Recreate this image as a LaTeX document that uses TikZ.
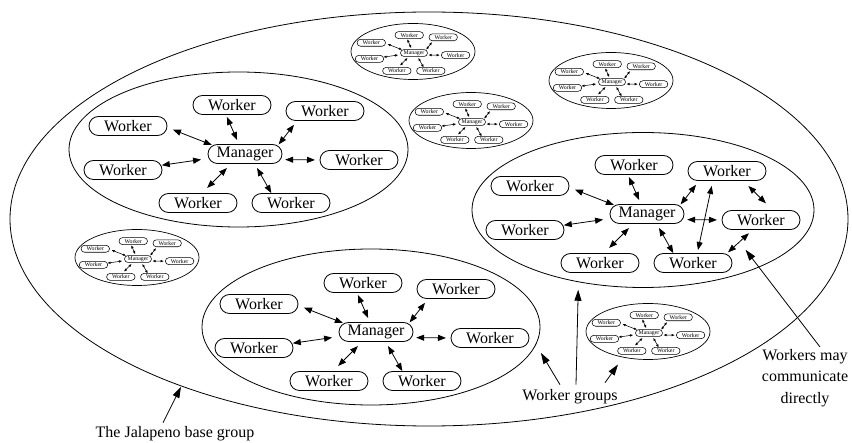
\documentclass[tikz,border=0pt]{standalone}
\usepackage{fontspec}
\setmainfont{Liberation Serif}
\usetikzlibrary{arrows.meta,shapes.misc,shapes.geometric}
\newcommand\figfont{\fontsize{16}{21.5}\selectfont}
\tikzset{
  box/.style={draw, rounded rectangle, minimum height=19pt, inner sep=0pt, outer sep=0pt, font=\figfont},
  wkr/.style={box, minimum width=78pt},
  mgr/.style={box, minimum width=74pt},
  grp/.style={draw, ellipse, inner sep=0pt, outer sep=0pt, line width=0.8pt},
  sgrp/.style={grp, minimum width=124pt, minimum height=56pt, line width=0.7pt},
  lbl/.style={font=\figfont, inner sep=0pt, anchor=base},
  pointer/.style={-{Triangle[length=11pt,width=7pt]}, line width=0.8pt},
  link/.style={<->},
  biglink/.style={<->, line width=0.8pt, >={Triangle[length=8pt,width=6pt]}},
  % one manager with its seven workers; the argument is the size factor
  pics/wgroup/.style={code={
    \begin{scope}[scale=#1, transform shape, line width=0.4pt+#1*0.4pt,
                  >={Triangle[length=8pt,width=6pt,scale=#1]}]
      \node[mgr] (m)  at (0,0)      {Manager};
      \node[wkr] (tl) at (-117,-28) {Worker};
      \node[wkr] (t)  at (-13,-49)  {Worker};
      \node[wkr] (tr) at (80,-43)   {Worker};
      \node[wkr] (l)  at (-122,16)  {Worker};
      \node[wkr] (r)  at (114,6)    {Worker};
      \node[wkr] (bl) at (-47,49)   {Worker};
      \node[wkr] (br) at (46,49)    {Worker};
      \draw[link, shorten <=#1*6.5pt, shorten >=#1*1.5pt] (tl.-2.2)  -- (m.165.6);
      \draw[link, shorten <=#1*2.7pt, shorten >=#1*4.9pt] (t.237.3)  -- (m.122.3);
      \draw[link, shorten <=#1*5.5pt, shorten >=#1*1.9pt] (tr.199.5) -- (m.14.8);
      \draw[link, shorten <=#1*1pt,   shorten >=#1*8.1pt] (l.7.2)    -- (m.187.5);
      \draw[link, shorten <=#1*5pt,   shorten >=#1*5pt]   (m.-9.2)   -- (r.180);
      \draw[link, shorten <=#1*6.4pt, shorten >=#1*7.8pt] (m.215.1)  -- (bl.69.8);
      \draw[link, shorten <=#1*5.2pt, shorten >=#1*0.5pt] (m.-45)    -- (br.154.3);
    \end{scope}
  }},
}
\begin{document}
\begin{tikzpicture}[x=1pt, y=-1pt]
  \useasboundingbox (0,0) rectangle (852,443);

  % the base group and the group outlines
  \node[grp, minimum width=838pt, minimum height=414pt] (base) at (429,219) {};
  \node[grp, minimum width=339pt, minimum height=155pt] (g1e) at (238.5,149.5) {};
  \node[grp, minimum width=342pt, minimum height=155pt] (g2e) at (643,210) {};
  \node[grp, minimum width=338pt, minimum height=156pt] (g3e) at (371,327) {};
  \node[sgrp] (gAe) at (413,51.5) {};
  \node[sgrp] (gBe) at (611,80.5) {};
  \node[sgrp] (gCe) at (471,120.5) {};
  \node[sgrp] (gDe) at (137,257.5) {};
  \node[sgrp] (gEe) at (648,331.5) {};

  % large worker groups
  \pic (g1) at (245,154) {wgroup=1};
  \pic (g2) at (647,214) {wgroup=1};
  \pic (g3) at (376,332) {wgroup=1};

  % small worker groups
  \pic (gA) at (414,53)  {wgroup=0.365};
  \pic (gB) at (612,82)  {wgroup=0.365};
  \pic (gC) at (472,122) {wgroup=0.365};
  \pic (gD) at (138,259) {wgroup=0.365};
  \pic (gE) at (649,333) {wgroup=0.365};

  % direct worker-to-worker links
  \draw[biglink, shorten <=5.6pt, shorten >=3.6pt] (g2tr.214.5) -- (g2br.66.1);
  \draw[biglink, shorten <=7.8pt, shorten >=10.2pt] (g2tr.-31) -- (g2r.38.6);
  \draw[biglink, shorten <=5.6pt, shorten >=2.7pt] (g2r.230.3) -- coordinate[pos=0.5] (direct) (g2br.15.2);

  % labels
  \node[lbl] (bl) at (175,438) {The Jalapeno base group};
  \node[lbl] (wg) at (570,401) {Worker groups};
  \node[font=\figfont, inner sep=0pt, align=center, anchor=north] (wm) at (805,349)
    {Workers may\\communicate\\directly};

  \draw[pointer, shorten >=1pt]  ([xshift=-12pt,yshift=4pt]bl.north) -- (base.214.4);
  \draw[pointer, shorten >=10pt] ([xshift=-10pt,yshift=5pt]wg.north) -- (g3e.-6);
  \draw[pointer, shorten >=8pt]  ([xshift=6pt,yshift=5pt]wg.north)   -- (g2e.228.5);
  \draw[pointer, shorten >=9pt]  ([xshift=35pt,yshift=7pt]wg.north)  -- (gEe.226.4);
  \draw[pointer, shorten >=10pt] ([xshift=15pt,yshift=2pt]wm.north)  -- (direct);
\end{tikzpicture}
\end{document}
